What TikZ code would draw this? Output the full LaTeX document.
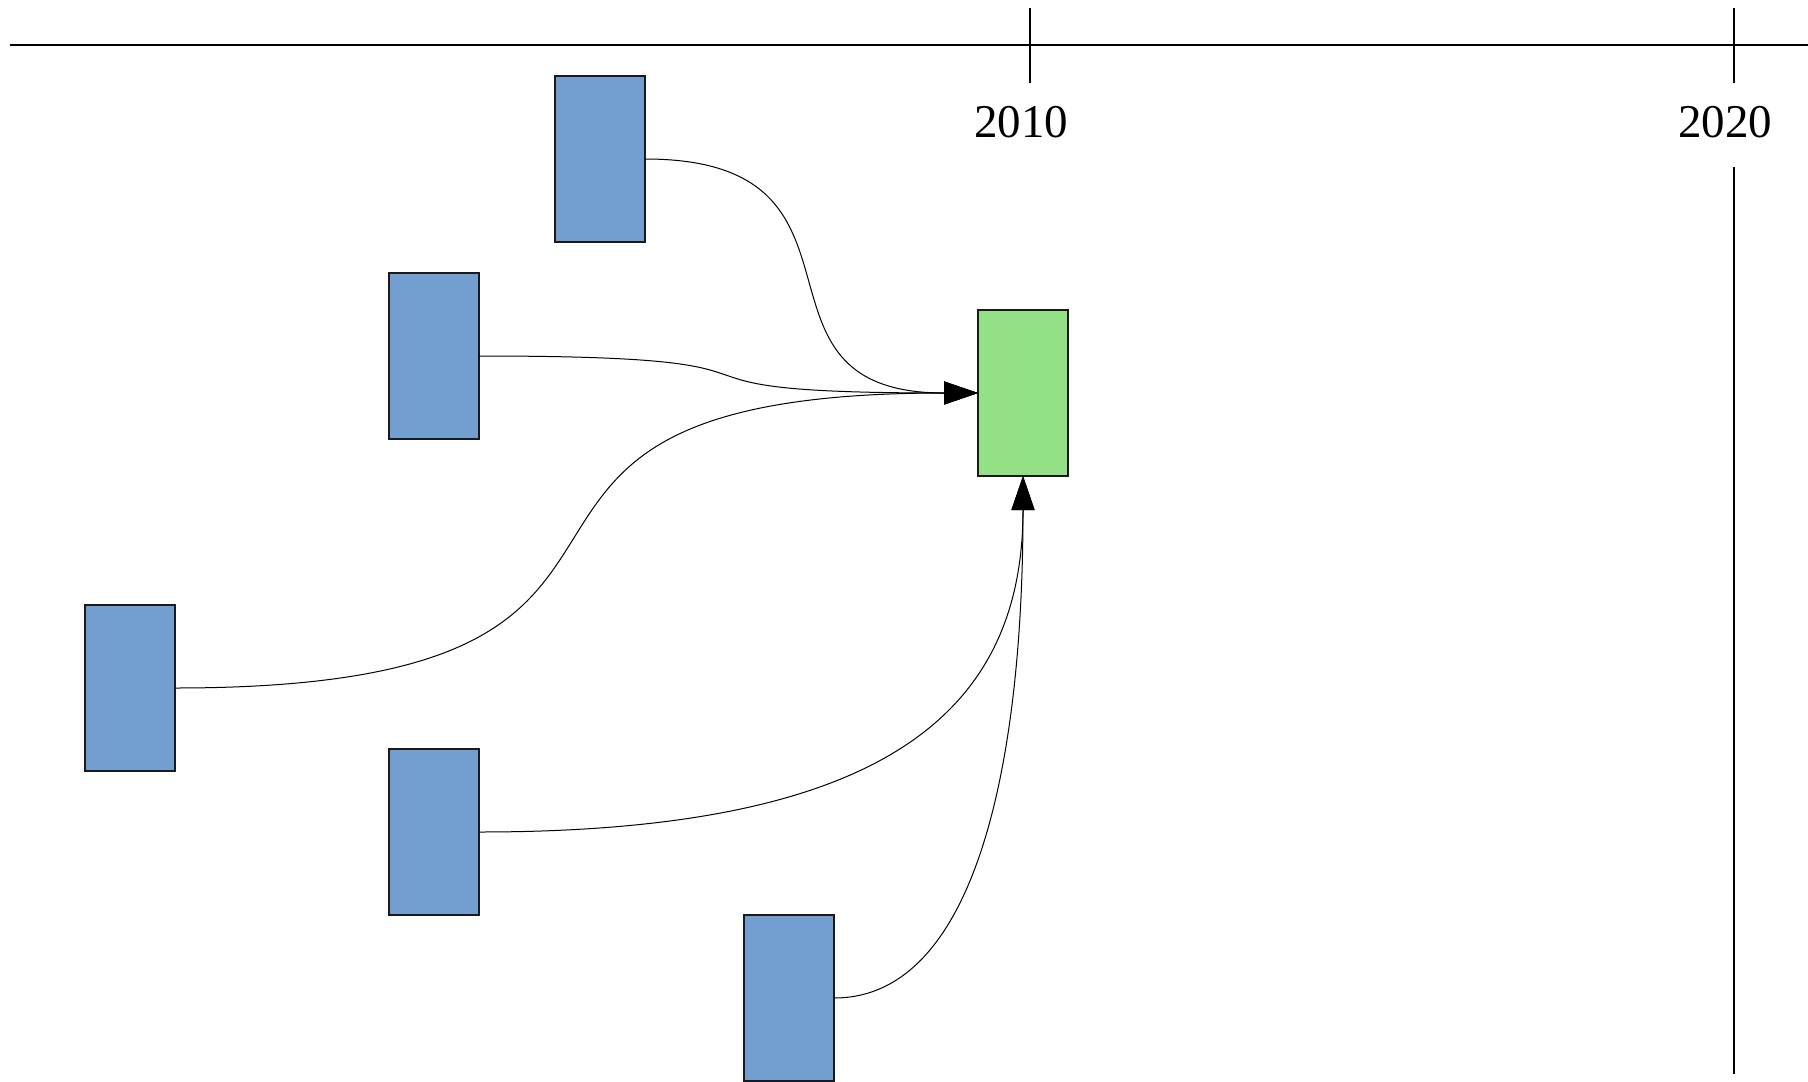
\documentclass[tikz,border=0pt]{standalone}
\usepackage{fontspec}
\setmainfont{Liberation Serif}
\usetikzlibrary{arrows.meta}
\definecolor{boxblue}{HTML}{729FCF}
\definecolor{boxgreen}{HTML}{93E086}
\definecolor{edge}{HTML}{1A1A1A}
\begin{document}
\begin{tikzpicture}[x=0.5pt,y=-0.5pt,
  card/.style={draw=edge,line width=0.6pt,minimum width=45pt,minimum height=83pt,inner sep=0pt,outer sep=0pt},
  source/.style={card,fill=boxblue},
  target/.style={card,fill=boxgreen},
  link/.style={draw=black,line width=0.5pt,-{Triangle[length=17pt,width=11.5pt]}},
  axis/.style={draw=black,line width=0.6pt},
  year/.style={font=\fontsize{23.5}{28}\selectfont,anchor=base,inner sep=0pt}]
\useasboundingbox (0,0) rectangle (1808,1081);

% time axis with decade ticks
\draw[axis] (10,45) -- (1808,45);
\draw[axis] (1030,8) -- (1030,83);
\draw[axis] (1734,8) -- (1734,83);
\node[year] (y2010) at (1021,137) {2010};
\node[year] (y2020) at (1725,137) {2020};
\draw[axis] (1734,167) -- (1734,1074);

% boxes
\node[target] (g)  at (1023,393) {};
\node[source] (b1) at (600,159) {};
\node[source] (b2) at (434,356) {};
\node[source] (b3) at (130,688) {};
\node[source] (b4) at (434,832) {};
\node[source] (b5) at (789,998) {};

% curved links into the green box
\draw[link] (b1.east) .. controls +(250,0) and +(-250,0) .. (g.west);
\draw[link] (b2.east) .. controls +(374,0) and +(-374,0) .. (g.west);
\draw[link] (b3.east) .. controls +(602,0) and +(-602,0) .. (g.west);
\draw[link] (b4.east) .. controls +(400,0) and +(0,240) .. (g.south);
\draw[link] (b5.east) .. controls +(142,0) and +(0,287) .. (g.south);
\end{tikzpicture}
\end{document}
